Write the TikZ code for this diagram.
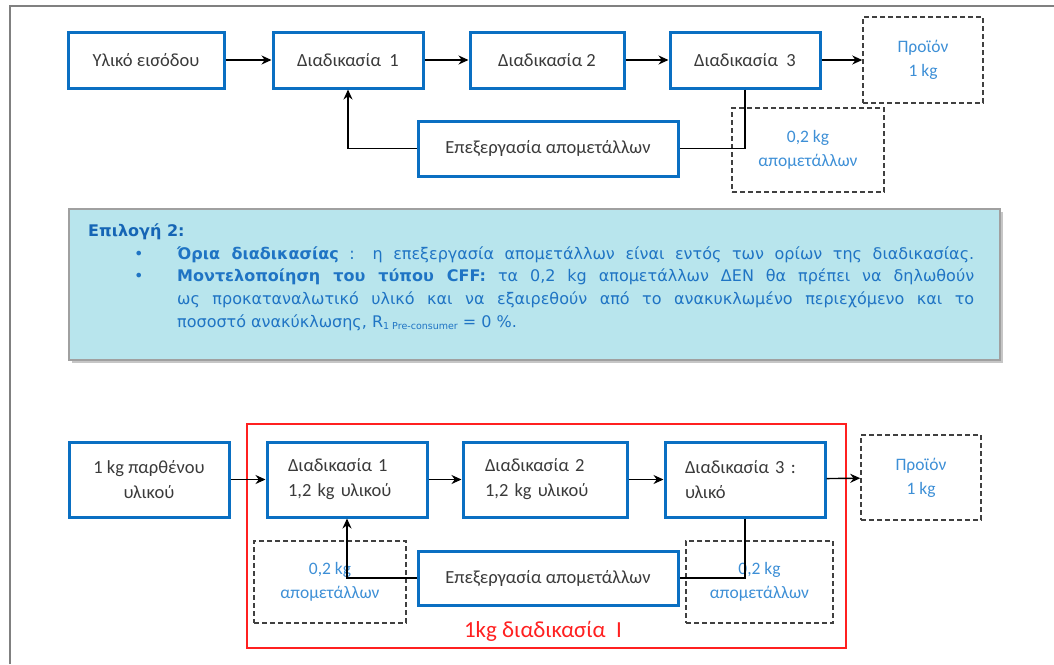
\documentclass[tikz,border=0pt]{standalone}
\usepackage{fontspec}
\setmainfont{Carlito}
\newfontfamily\infofont{DejaVu Sans}
\usetikzlibrary{arrows.meta}

\definecolor{boxblue}{RGB}{10,111,194}
\definecolor{lightblue}{RGB}{61,143,214}
\definecolor{infotext}{RGB}{31,116,196}
\definecolor{infohead}{RGB}{21,101,181}
\definecolor{infofill}{RGB}{184,229,237}
\definecolor{infoedge}{RGB}{160,160,160}
\definecolor{dashgray}{RGB}{64,64,64}
\definecolor{textgray}{RGB}{58,58,58}
\definecolor{framegray}{RGB}{128,128,128}
\definecolor{redline}{RGB}{255,32,32}

\begin{document}
\begin{tikzpicture}[x=1pt,y=-1pt,
  procbox/.style={draw=boxblue, line width=3pt, fill=white, text=textgray,
    inner sep=0pt, font=\fontsize{18.5}{25}\selectfont, align=center},
  leftbox/.style={procbox, text width=#1, align=left},
  outbox/.style={draw=dashgray, line width=1.5pt, dash pattern=on 5pt off 3pt,
    text=lightblue, inner sep=0pt, font=\fontsize{17.5}{24}\selectfont, align=center},
  arr/.style={draw=black, line width=1.4pt, -{Stealth[length=10pt,width=9pt]}},
  flow/.style={draw=black, line width=1.4pt},
  infoline/.style={anchor=base west, inner sep=0pt, text=infotext,
    font=\infofont\fontsize{16}{18}\selectfont},
]
\useasboundingbox (0,0) rectangle (1054,664);

% page frame
\draw[framegray, line width=2pt] (10,664) -- (10,6) -- (1054,6);

% ---------- upper flow ----------
\node[outbox, minimum width=152pt, minimum height=84pt] (scrapA) at (808,150) {0,2 kg\\απομετάλλων};
\node[outbox, minimum width=120pt, minimum height=86pt] (prodA) at (923,60) {Προϊόν\\1 kg};

\node[procbox, minimum width=156pt, minimum height=56pt] (inA) at (146,60) {Υλικό εισόδου};
\node[procbox, minimum width=150pt, minimum height=56pt] (pA1) at (348,60) {Διαδικασία\ \ 1};
\node[procbox, minimum width=154pt, minimum height=56pt] (pA2) at (547,60) {Διαδικασία 2};
\node[procbox, minimum width=150pt, minimum height=56pt] (pA3) at (745,60) {Διαδικασία\ \ 3};
\node[procbox, minimum width=260pt, minimum height=55pt] (recA) at (548,148.5) {Επεξεργασία απομετάλλων};

\draw[arr] (inA) -- (pA1);
\draw[arr] (pA1) -- (pA2);
\draw[arr] (pA2) -- (pA3);
\draw[arr] (pA3) -- (prodA);
\draw[arr] (recA.west) -| (pA1.south);
\draw[flow] (pA3.south) |- (recA.east);

% ---------- note box ----------
\fill[gray!45] (72,212) rectangle (1003,363);
\draw[infoedge, line width=1.5pt, fill=infofill] (69,209) rectangle (1000,360);

\node[anchor=base west, inner sep=0pt, text=infohead, font=\infofont\bfseries\fontsize{16}{18}\selectfont]
  (head) at (88,236) {Επιλογή 2:};
\node[infoline] (dotA) at (134,259) {•};
\node[infoline] (dotB) at (134,281) {•};
\node[infoline] (lineA) at (177,259)
  {\makebox[797pt][s]{\textbf{Όρια διαδικασίας} : η επεξεργασία απομετάλλων είναι εντός των ορίων της διαδικασίας.}};
\node[infoline] (lineB) at (177,281)
  {\makebox[797pt][s]{\textbf{Μοντελοποίηση του τύπου CFF:} τα 0,2 kg απομετάλλων ΔΕΝ θα πρέπει να δηλωθούν}};
\node[infoline] (lineC) at (177,304)
  {\makebox[797pt][s]{ως προκαταναλωτικό υλικό και να εξαιρεθούν από το ανακυκλωμένο περιεχόμενο και το}};
\node[infoline] (lineD) at (177,327)
  {ποσοστό ανακύκλωσης, R\raisebox{-0.15em}{\fontsize{9.5}{9.5}\selectfont 1 Pre-consumer} = 0 \%.};

% ---------- lower flow ----------
\node[draw=redline, line width=2pt, minimum width=599pt, minimum height=224pt, inner sep=0pt] (bound) at (546.5,536) {};
\node[text=redline, font=\fontsize{23}{26}\selectfont, inner sep=0pt] (boundlbl) at (543,631) {1kg διαδικασία\ \ Ι};

\node[outbox, minimum width=152pt, minimum height=82pt] (scrapL) at (330,582) {0,2 kg\\απομετάλλων};
\node[outbox, minimum width=147pt, minimum height=82pt] (scrapR) at (759.5,582) {0,2 kg\\απομετάλλων};
\node[outbox, minimum width=120pt, minimum height=85pt] (prodB) at (921,477.5) {Προϊόν\\1 kg};

\node[procbox, minimum width=160pt, minimum height=75pt] (inB) at (149,479.5) {1 kg παρθένου\\υλικού};
\node[leftbox=118pt, minimum width=160pt, minimum height=75pt] (pB1) at (347,479.5) {Διαδικασία 1\\1,2 kg υλικού};
\node[leftbox=120pt, minimum width=164pt, minimum height=75pt] (pB2) at (545,479.5) {Διαδικασία 2\\1,2 kg υλικού};
\node[leftbox=120pt, minimum width=160pt, minimum height=75pt] (pB3) at (745,479.5) {Διαδικασία 3 :\\υλικό};
\node[procbox, minimum width=260pt, minimum height=54pt] (recB) at (548,578) {Επεξεργασία απομετάλλων};

\draw[arr] (inB) -- (pB1);
\draw[arr] (pB1) -- (pB2);
\draw[arr] (pB2) -- (pB3);
\draw[arr] (pB3) -- (prodB);
\draw[arr] (recB.west) -| (pB1.south);
\draw[flow] (pB3.south) |- (recB.east);
\end{tikzpicture}
\end{document}
